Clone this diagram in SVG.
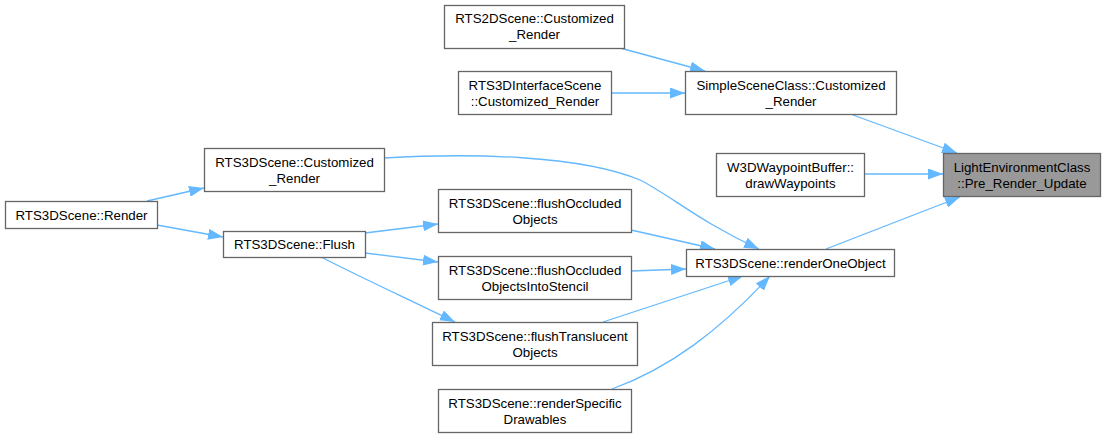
<svg xmlns="http://www.w3.org/2000/svg" width="1105" height="437" viewBox="0 0 1105 437">
<style>
.node rect{fill:#ffffff;stroke:#666666;stroke-width:1.3}
.node.hl rect{fill:#999999}
.node text{font-family:"Liberation Sans",Arial,sans-serif;font-size:13.3px;fill:#000000;text-anchor:middle}
.edges path{fill:none;stroke:#63b8ff;stroke-width:1.3;marker-end:url(#ah)}
</style>
<defs>
<marker id="ah" viewBox="0 0 15 11" refX="15" refY="5.5" markerWidth="15" markerHeight="11" markerUnits="userSpaceOnUse" orient="auto">
<path d="M0,0 L15,5.5 L0,11 Z" fill="#63b8ff"/>
</marker>
</defs>
<rect width="1105" height="437" fill="#ffffff"/>
<g class="edges" id="edges">
<path d="M620,48 L705,71"/>
<path d="M611,93 L685,93"/>
<path d="M853,115 L957,153"/>
<path d="M864,174 L943,174"/>
<path d="M826,249 L960,197"/>
<path d="M147,201 L204,188"/>
<path d="M157,225 L223,237"/>
<path d="M365,233 L438,224"/>
<path d="M365,253 L438,262"/>
<path d="M321,257 C360,277 410,300 455,322"/>
<path d="M384,158 C470,153 580,155 640,180 C670,195 700,222 759,249"/>
<path d="M631,230 L715,249"/>
<path d="M631,271 L686,269"/>
<path d="M603,322 L743,276"/>
<path d="M612,389 C670,368 720,330 770,276"/>
</g>
<g class="node" id="n_rts2d"><rect x="444.5" y="5.5" width="180" height="43"/><text x="534.5" y="23">RTS2DScene::Customized</text><text x="534.5" y="39">_Render</text></g>
<g class="node" id="n_iface"><rect x="458.5" y="71.5" width="153" height="43"/><text x="535" y="89.5">RTS3DInterfaceScene</text><text x="535" y="105.5">::Customized_Render</text></g>
<g class="node" id="n_simple"><rect x="685.5" y="71.5" width="211" height="43"/><text x="791" y="89.5">SimpleSceneClass::Customized</text><text x="791" y="105.5">_Render</text></g>
<g class="node" id="n_w3d"><rect x="716.5" y="153.5" width="148" height="43"/><text x="790.5" y="171.5">W3DWaypointBuffer::</text><text x="790.5" y="187.5">drawWaypoints</text></g>
<g class="node hl" id="n_light"><rect x="943.5" y="153.5" width="157" height="43"/><text x="1022" y="171.5">LightEnvironmentClass</text><text x="1022" y="187.5">::Pre_Render_Update</text></g>
<g class="node" id="n_rts3dcust"><rect x="204.5" y="148.5" width="180" height="43"/><text x="294.5" y="166.5">RTS3DScene::Customized</text><text x="294.5" y="182.5">_Render</text></g>
<g class="node" id="n_render"><rect x="5.5" y="201.5" width="152" height="27"/><text x="81.5" y="219.5">RTS3DScene::Render</text></g>
<g class="node" id="n_flush"><rect x="223.5" y="231.5" width="142" height="26"/><text x="294.5" y="249">RTS3DScene::Flush</text></g>
<g class="node" id="n_occl"><rect x="438.5" y="189.5" width="193" height="43"/><text x="535" y="207.5">RTS3DScene::flushOccluded</text><text x="535" y="223.5">Objects</text></g>
<g class="node" id="n_one"><rect x="686.5" y="249.5" width="208" height="27"/><text x="790.5" y="267.5">RTS3DScene::renderOneObject</text></g>
<g class="node" id="n_stencil"><rect x="438.5" y="256.5" width="193" height="43"/><text x="535" y="274.5">RTS3DScene::flushOccluded</text><text x="535" y="290.5">ObjectsIntoStencil</text></g>
<g class="node" id="n_trans"><rect x="432.5" y="322.5" width="205" height="43"/><text x="535" y="340.5">RTS3DScene::flushTranslucent</text><text x="535" y="356.5">Objects</text></g>
<g class="node" id="n_spec"><rect x="438.5" y="389.5" width="193" height="43"/><text x="535" y="407.5">RTS3DScene::renderSpecific</text><text x="535" y="423.5">Drawables</text></g>
</svg>
